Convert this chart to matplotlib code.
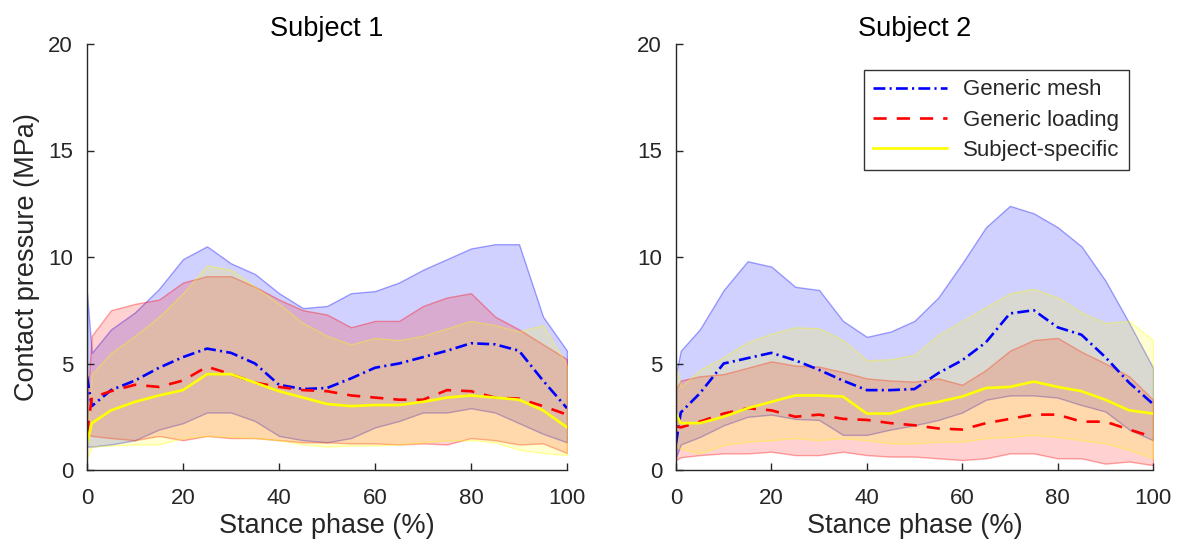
import numpy as np
import matplotlib
matplotlib.use("Agg")
import matplotlib.pyplot as plt

plt.rcParams['font.family'] = ['Liberation Sans', 'DejaVu Sans']

# stance phase grid (%) shared by all series
stance = [0, 1, 5, 10, 15, 20, 25, 30, 35, 40, 45, 50, 55, 60, 65, 70, 75, 80, 85, 90, 95, 100]

# Subject 1
s1_mesh_mean = [4.4, 3.0, 3.75, 4.2, 4.8, 5.3, 5.7, 5.5, 5.0, 4.0, 3.8, 3.85, 4.3, 4.8, 5.0, 5.3, 5.6, 5.95, 5.9, 5.6, 4.2, 2.9]
s1_mesh_hi = [8.3, 5.5, 6.6, 7.4, 8.5, 9.9, 10.5, 9.7, 9.2, 8.3, 7.6, 7.7, 8.3, 8.4, 8.8, 9.4, 9.9, 10.4, 10.6, 10.6, 7.2, 5.6]
s1_mesh_lo = [1.1, 1.1, 1.2, 1.4, 1.9, 2.2, 2.7, 2.7, 2.3, 1.6, 1.4, 1.3, 1.5, 2.0, 2.3, 2.7, 2.7, 2.9, 2.7, 2.2, 1.7, 1.3]
s1_load_mean = [1.7, 3.4, 3.7, 4.0, 3.9, 4.2, 4.85, 4.5, 4.1, 3.9, 3.75, 3.7, 3.5, 3.4, 3.3, 3.3, 3.75, 3.7, 3.4, 3.35, 3.0, 2.6]
s1_load_hi = [3.0, 6.3, 7.5, 7.8, 8.0, 8.8, 9.1, 9.1, 8.6, 8.0, 7.5, 7.3, 6.7, 7.0, 7.0, 7.7, 8.1, 8.3, 7.2, 6.6, 5.9, 5.2]
s1_load_lo = [1.7, 1.6, 1.5, 1.4, 1.6, 1.4, 1.6, 1.5, 1.5, 1.4, 1.3, 1.3, 1.25, 1.25, 1.2, 1.25, 1.2, 1.5, 1.4, 1.2, 1.25, 0.8]
s1_subj_mean = [1.25, 2.2, 2.8, 3.2, 3.5, 3.75, 4.5, 4.5, 4.1, 3.7, 3.4, 3.1, 3.0, 3.05, 3.05, 3.2, 3.4, 3.5, 3.4, 3.3, 2.8, 2.0]
s1_subj_hi = [1.5, 4.5, 5.5, 6.3, 7.2, 8.3, 9.6, 9.4, 8.6, 7.8, 6.9, 6.3, 5.9, 6.2, 6.1, 6.3, 6.65, 7.0, 6.8, 6.5, 6.8, 4.9]
s1_subj_lo = [0.55, 1.1, 1.15, 1.2, 1.2, 1.5, 1.6, 1.55, 1.5, 1.4, 1.2, 1.1, 1.15, 1.15, 1.2, 1.3, 1.4, 1.4, 1.3, 0.95, 0.8, 0.7]

# Subject 2
s2_mesh_mean = [1.25, 2.7, 3.6, 5.0, 5.25, 5.5, 5.15, 4.7, 4.2, 3.75, 3.75, 3.8, 4.55, 5.15, 6.0, 7.35, 7.5, 6.7, 6.35, 5.3, 4.1, 3.1]
s2_mesh_hi = [4.5, 5.6, 6.6, 8.45, 9.8, 9.55, 8.6, 8.45, 7.0, 6.25, 6.5, 7.0, 8.1, 9.7, 11.4, 12.4, 12.05, 11.4, 10.5, 8.9, 6.9, 4.8]
s2_mesh_lo = [0.6, 1.2, 1.55, 2.1, 2.5, 2.6, 2.4, 2.35, 1.65, 1.65, 1.9, 2.1, 2.35, 2.7, 3.3, 3.5, 3.5, 3.4, 3.05, 2.75, 1.9, 1.4]
s2_load_mean = [2.05, 2.0, 2.27, 2.65, 2.9, 2.8, 2.5, 2.6, 2.4, 2.35, 2.2, 2.1, 1.95, 1.9, 2.2, 2.4, 2.6, 2.6, 2.27, 2.27, 1.9, 1.55]
s2_load_hi = [3.8, 4.2, 4.4, 4.5, 4.8, 5.1, 4.9, 4.85, 4.6, 4.3, 4.2, 4.15, 4.3, 4.0, 4.7, 5.6, 6.1, 6.2, 5.55, 5.0, 4.4, 3.3]
s2_load_lo = [0.47, 0.6, 0.7, 0.78, 0.78, 0.86, 0.7, 0.7, 0.86, 0.7, 0.63, 0.63, 0.55, 0.47, 0.55, 0.78, 0.78, 0.55, 0.55, 0.3, 0.4, 0.23]
s2_subj_mean = [2.65, 2.2, 2.2, 2.5, 2.9, 3.2, 3.5, 3.5, 3.45, 2.65, 2.65, 3.0, 3.2, 3.45, 3.85, 3.9, 4.15, 3.9, 3.7, 3.3, 2.8, 2.65]
s2_subj_hi = [4.9, 3.9, 4.7, 5.3, 6.0, 6.4, 6.7, 6.65, 6.1, 5.15, 5.2, 5.4, 6.35, 7.0, 7.65, 8.3, 8.5, 8.1, 7.4, 6.9, 7.0, 6.1]
s2_subj_lo = [1.1, 1.0, 0.78, 1.17, 1.33, 1.4, 1.5, 1.4, 1.5, 1.4, 1.25, 1.25, 1.33, 1.33, 1.5, 1.55, 1.65, 1.55, 1.4, 1.25, 0.95, 0.55]

labels = ["Generic mesh", "Generic loading", "Subject-specific"]
colors = [(0, 0, 1), (1, 0, 0), (1, 1, 0)]
# matlab-like '-.', '--', '-'
styles = [(0, (4.5, 1.6, 0.8, 1.6)), (0, (5, 3.8)), '-']

subjects = [
    ("Subject 1", [(s1_mesh_mean, s1_mesh_lo, s1_mesh_hi),
                   (s1_load_mean, s1_load_lo, s1_load_hi),
                   (s1_subj_mean, s1_subj_lo, s1_subj_hi)]),
    ("Subject 2", [(s2_mesh_mean, s2_mesh_lo, s2_mesh_hi),
                   (s2_load_mean, s2_load_lo, s2_load_hi),
                   (s2_subj_mean, s2_subj_lo, s2_subj_hi)]),
]

fig = plt.figure(figsize=(11.84, 5.55), dpi=100)
W, H = 1184, 555
ax_rects = [[87 / W, 85 / H, 480 / W, 426 / H],
            [676 / W, 85 / H, 477 / W, 426 / H]]

dark = (0.15, 0.15, 0.15)
for k, (title, series) in enumerate(subjects):
    ax = fig.add_axes(ax_rects[k])
    x = np.array(stance)
    lines = []
    # band then mean for each model, so later bands tint earlier lines
    for (mean, lo, hi), c, ls, lab in zip(series, colors, styles, labels):
        ax.fill_between(x, lo, hi, facecolor=c + (0.18,), edgecolor=c + (0.35,), linewidth=1.0)
        ln, = ax.plot(x, mean, color=c, linestyle=ls, linewidth=1.9, label=lab)
        lines.append(ln)

    ax.set_xlim(0, 100)
    ax.set_ylim(0, 20)
    ax.set_xticks(range(0, 101, 20))
    ax.set_yticks(range(0, 21, 5))
    ax.spines['top'].set_visible(False)
    ax.spines['right'].set_visible(False)
    for s in ['left', 'bottom']:
        ax.spines[s].set_color(dark)
        ax.spines[s].set_linewidth(1.0)
    ax.tick_params(direction='in', length=5, width=1, colors=dark, labelsize=16)
    ax.tick_params(axis='x', pad=13)
    ax.tick_params(axis='y', pad=10)
    ax.set_xlabel("Stance phase (%)", fontsize=19.5, color=dark, labelpad=3)
    ax.set_title(title, fontsize=19.5, color='black', pad=6)
    if k == 0:
        ax.set_ylabel("Contact pressure (MPa)", fontsize=19.5, color=dark, labelpad=6)
    else:
        leg = ax.legend(handles=lines, loc='upper left', bbox_to_anchor=(864 / W, 1 - 70 / H),
                        bbox_transform=fig.transFigure, borderaxespad=0, fontsize=16,
                        frameon=True, fancybox=False, handlelength=3.3, handletextpad=0.75,
                        labelspacing=0.42, borderpad=0.42)
        leg.get_frame().set_edgecolor('black')
        leg.get_frame().set_linewidth(1.0)
        for t in leg.get_texts():
            t.set_color(dark)

fig.savefig("out.png", dpi=100)
